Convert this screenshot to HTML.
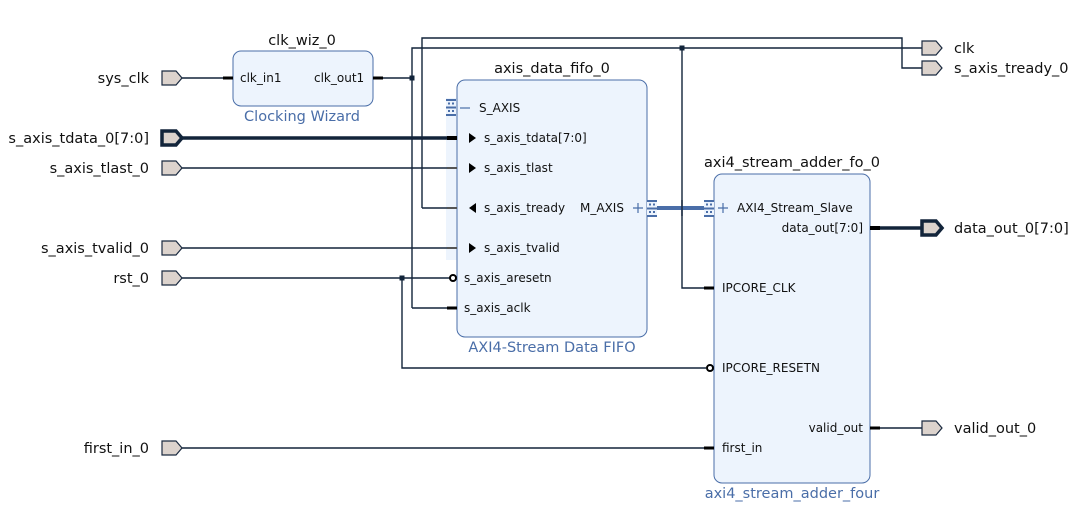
<!DOCTYPE html>
<html><head><meta charset="utf-8"><style>
html,body{margin:0;padding:0;background:#fff;}
svg{display:block;font-family:"DejaVu Sans","Liberation Sans",sans-serif;}
</style></head><body>
<svg width="1084" height="523" viewBox="0 0 1084 523" xmlns="http://www.w3.org/2000/svg">
<defs>
<g id="ip"><path d="M0,-7 H14 L20,0 L14,7 H0 Z" fill="#dcd3cd" stroke="#1a2a40" stroke-width="1.2"/></g>
<g id="ipb"><path d="M0,-7 H14 L20,0 L14,7 H0 Z" fill="#dcd3cd" stroke="#12243a" stroke-width="3.5"/></g>
<g id="icon"><rect x="0" y="0" width="10" height="17" fill="#edf4fd"/><rect x="0" y="0" width="10" height="2" fill="#4a6ea8"/><rect x="0" y="7.5" width="10" height="2" fill="#4a6ea8"/><rect x="0" y="15" width="10" height="2" fill="#4a6ea8"/><rect x="2" y="3.5" width="2" height="2" fill="#4a6ea8"/><rect x="6" y="3.5" width="2" height="2" fill="#4a6ea8"/><rect x="2" y="11" width="2" height="2" fill="#4a6ea8"/><rect x="6" y="11" width="2" height="2" fill="#4a6ea8"/></g>
</defs>

<rect x="233" y="51" width="140" height="55" rx="8" fill="#edf4fd" stroke="#4a6ea8" stroke-width="1"/>
<rect x="446" y="98" width="12" height="162" fill="#edf4fd"/>
<rect x="457" y="80" width="190" height="257" rx="8" fill="#edf4fd" stroke="#4a6ea8" stroke-width="1"/>
<rect x="714" y="174" width="156" height="309" rx="8" fill="#edf4fd" stroke="#4a6ea8" stroke-width="1"/>

<g stroke="#12243a" stroke-width="1.4" fill="none">
<path d="M182,78 H228"/>
<path d="M378,78 H412"/>
<path d="M412,308 V48 H922"/>
<path d="M412,308 H452"/>
<path d="M682,48 V288 H708"/>
<path d="M422,208 V38 H902 V68 H922"/>
<path d="M422,208 H452"/>
<path d="M182,168 H452"/>
<path d="M182,248 H452"/>
<path d="M182,278 H450"/>
<path d="M402,278 V368 H706"/>
<path d="M182,448 H708"/>
<path d="M876,428 H922"/>
</g>
<path d="M182,138 H452" stroke="#12243a" stroke-width="3.5"/>
<path d="M876,228 H922" stroke="#12243a" stroke-width="3.5"/>
<path d="M657,208 H704" stroke="#4a6ea8" stroke-width="4"/>
<path d="M682,200 V216" stroke="#12243a" stroke-width="1.4"/>

<rect x="409.5" y="75.5" width="5" height="5" fill="#12243a"/>
<rect x="679.5" y="45.5" width="5" height="5" fill="#12243a"/>
<rect x="399.5" y="275.5" width="5" height="5" fill="#12243a"/>

<g fill="#000">
<rect x="223" y="76.5" width="10" height="3"/>
<rect x="373" y="76.5" width="10" height="3"/>
<rect x="447" y="136" width="10" height="4"/>
<rect x="447" y="306.5" width="10" height="3"/>
<rect x="704" y="286.5" width="10" height="3"/>
<rect x="704" y="446.5" width="10" height="3"/>
<rect x="870" y="226" width="10" height="4"/>
<rect x="870" y="426.5" width="10" height="3"/>
</g>
<g fill="#555"><rect x="447" y="167" width="10" height="2"/><rect x="447" y="207" width="10" height="2"/><rect x="447" y="247" width="10" height="2"/></g>
<circle cx="453" cy="278" r="3" fill="#fff" stroke="#000" stroke-width="2"/>
<circle cx="710" cy="368" r="3" fill="#fff" stroke="#000" stroke-width="2"/>

<use href="#icon" x="446" y="99"/>
<use href="#icon" x="647" y="200"/>
<use href="#icon" x="704" y="200"/>
<g stroke="#4a6ea8" stroke-width="1.2"><path d="M460,108 H470"/><path d="M633,208 H643 M638,203 V213"/><path d="M718,208 H728 M723,203 V213"/></g>

<use href="#ip" x="162" y="78"/>
<use href="#ipb" x="162" y="138"/>
<use href="#ip" x="162" y="168"/>
<use href="#ip" x="162" y="248"/>
<use href="#ip" x="162" y="278"/>
<use href="#ip" x="162" y="448"/>
<use href="#ip" x="922" y="48"/>
<use href="#ip" x="922" y="68"/>
<use href="#ipb" x="922" y="228"/>
<use href="#ip" x="922" y="428"/>

<g font-size="14.5" fill="#111" text-anchor="end">
<text x="149" y="83">sys_clk</text>
<text x="149" y="143">s_axis_tdata_0[7:0]</text>
<text x="149" y="173">s_axis_tlast_0</text>
<text x="149" y="253">s_axis_tvalid_0</text>
<text x="149" y="283">rst_0</text>
<text x="149" y="453">first_in_0</text>
</g>
<g font-size="14.5" fill="#111">
<text x="954" y="53">clk</text>
<text x="954" y="73">s_axis_tready_0</text>
<text x="954" y="233">data_out_0[7:0]</text>
<text x="954" y="433">valid_out_0</text>
</g>

<g font-size="14.5" fill="#111" text-anchor="middle">
<text x="302" y="45">clk_wiz_0</text>
<text x="552" y="73">axis_data_fifo_0</text>
<text x="792" y="167">axi4_stream_adder_fo_0</text>
</g>
<g font-size="14.5" fill="#4a6ea8" text-anchor="middle">
<text x="302" y="121">Clocking Wizard</text>
<text x="552" y="352">AXI4-Stream Data FIFO</text>
<text x="792" y="498">axi4_stream_adder_four</text>
</g>

<g font-size="12" fill="#111">
<text x="240" y="82">clk_in1</text>
<text x="314" y="82">clk_out1</text>
<text x="479" y="112">S_AXIS</text>
<text x="484" y="142">s_axis_tdata[7:0]</text>
<text x="484" y="172">s_axis_tlast</text>
<text x="484" y="212">s_axis_tready</text>
<text x="580" y="212">M_AXIS</text>
<text x="484" y="252">s_axis_tvalid</text>
<text x="464" y="282">s_axis_aresetn</text>
<text x="464" y="312">s_axis_aclk</text>
<text x="737" y="212">AXI4_Stream_Slave</text>
<text x="863" y="232" text-anchor="end">data_out[7:0]</text>
<text x="722" y="292">IPCORE_CLK</text>
<text x="722" y="372">IPCORE_RESETN</text>
<text x="863" y="432" text-anchor="end">valid_out</text>
<text x="722" y="452">first_in</text>
</g>
<g fill="#000">
<path d="M469,133 L476,138 L469,143 Z"/>
<path d="M469,163 L476,168 L469,173 Z"/>
<path d="M476,203 L469,208 L476,213 Z"/>
<path d="M469,243 L476,248 L469,253 Z"/>
</g>
</svg>
</body></html>
